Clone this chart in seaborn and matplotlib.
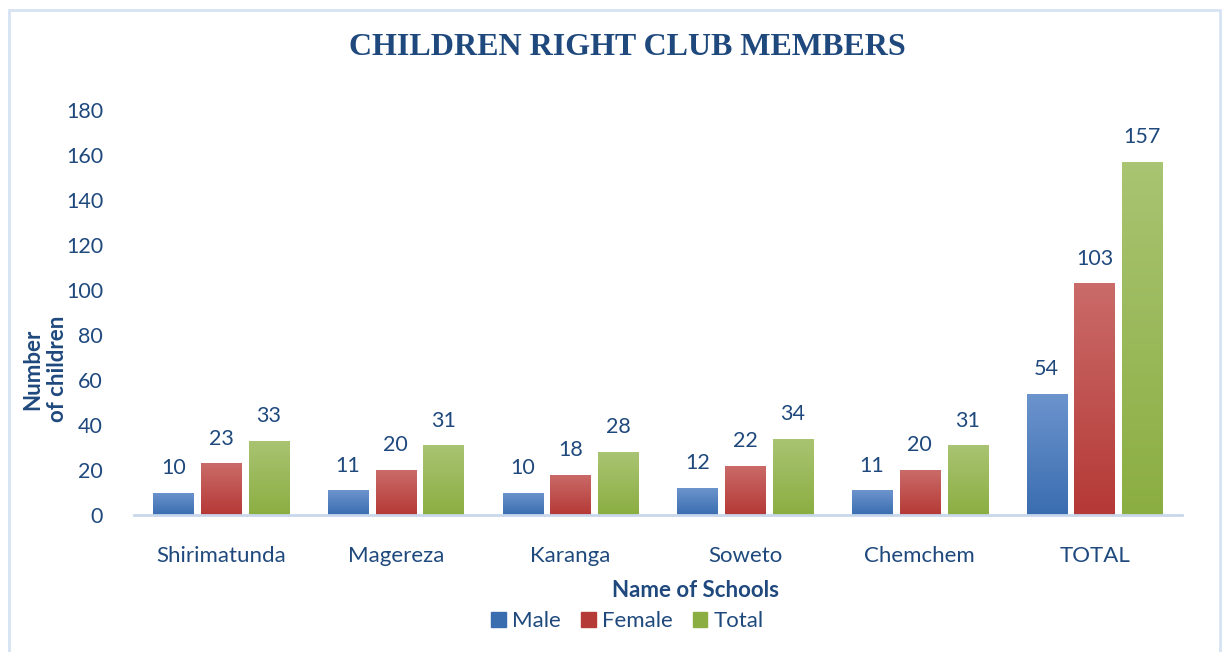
import numpy as np
import pandas as pd
import matplotlib
matplotlib.use("Agg")
import matplotlib.pyplot as plt
from matplotlib.colors import LinearSegmentedColormap
from matplotlib.patches import Rectangle
import seaborn as sns

# données
schools = ["Shirimatunda", "Magereza", "Karanga", "Soweto", "Chemchem", "TOTAL"]
male = [10, 11, 10, 12, 11, 54]
female = [23, 20, 18, 22, 20, 103]
total = [33, 31, 28, 34, 31, 157]
series = ["Male", "Female", "Total"]

df = pd.DataFrame({
    "school": schools * 3,
    "group": ["Male"] * 6 + ["Female"] * 6 + ["Total"] * 6,
    "count": male + female + total,
})

# couleurs (haut, bas) du dégradé
grad = {
    "Male": ("#6c94cd", "#3a6db0"),
    "Female": ("#ca6b69", "#b53936"),
    "Total": ("#a9c472", "#8bae42"),
}
palette = {k: v[1] for k, v in grad.items()}
txt = "#1f497d"

sns.set_style("white")
plt.rcParams["font.family"] = ["Lato", "DejaVu Sans"]

fig = plt.figure(figsize=(12.26, 6.52), dpi=100)
ax = fig.add_axes([0.109, 0.210, 0.855, 0.621])

sns.barplot(data=df, x="school", y="count", hue="group", hue_order=series,
            order=schools, palette=palette, width=0.82, gap=0.16,
            legend=False, ax=ax)

ax.set_ylim(0, 180)
ax.set_xlim(-0.5, 5.5)

# dégradé vertical sur chaque barre
for cont, name in zip(ax.containers, series):
    cmap = LinearSegmentedColormap.from_list(name, [grad[name][1], grad[name][0]])
    for bar, val in zip(cont, df[df.group == name]["count"]):
        x0, y0 = bar.get_x(), bar.get_y()
        w, h = bar.get_width(), bar.get_height()
        im = ax.imshow(np.linspace(0, 1, 100).reshape(-1, 1), cmap=cmap,
                       extent=[x0, x0 + w, y0, y0 + h], origin="lower",
                       aspect="auto", zorder=bar.get_zorder() + 0.1)
        im.set_clip_path(bar)
        ax.text(x0 + w / 2, val + 6.5, str(val), ha="center", va="bottom",
                fontsize=15.5, color=txt)

ax.set_ylim(0, 180)
ax.set_xlim(-0.5, 5.5)
ax.set_yticks(range(0, 181, 20))

sns.despine(ax=ax, left=True)
ax.spines["bottom"].set_color("#c8d7eb")
ax.spines["bottom"].set_linewidth(2)
ax.tick_params(axis="y", length=0, pad=22, labelsize=15.5, labelcolor=txt)
ax.tick_params(axis="x", length=0, pad=22, labelsize=16, labelcolor=txt)
ax.set_xlabel("")
ax.set_ylabel("")

fig.text(0.512, 0.927, "CHILDREN RIGHT CLUB MEMBERS", ha="center", va="center",
         fontsize=23, fontweight="bold", color=txt,
         family=["Liberation Serif", "DejaVu Serif"])
fig.text(0.567, 0.094, "Name of Schools", ha="center", va="center",
         fontsize=16, fontweight="bold", color=txt)
fig.text(0.037, 0.434, "Number\nof children", ha="center", va="center",
         rotation=90, fontsize=16, fontweight="bold", color=txt, linespacing=1.2)

# légende
handles = [Rectangle((0, 0), 1, 1, color=grad[s][1]) for s in series]
fig.legend(handles, series, loc="center", bbox_to_anchor=(0.512, 0.047), ncol=3,
           frameon=False, fontsize=16, labelcolor=txt, handlelength=0.65,
           handleheight=0.65, handletextpad=0.3, columnspacing=0.9)

# cadre
fig.patches.append(Rectangle((0.0075, -0.01), 0.988, 0.995, transform=fig.transFigure,
                             fill=False, edgecolor="#d7e3f4", linewidth=2))

fig.savefig("out.png", dpi=100)
